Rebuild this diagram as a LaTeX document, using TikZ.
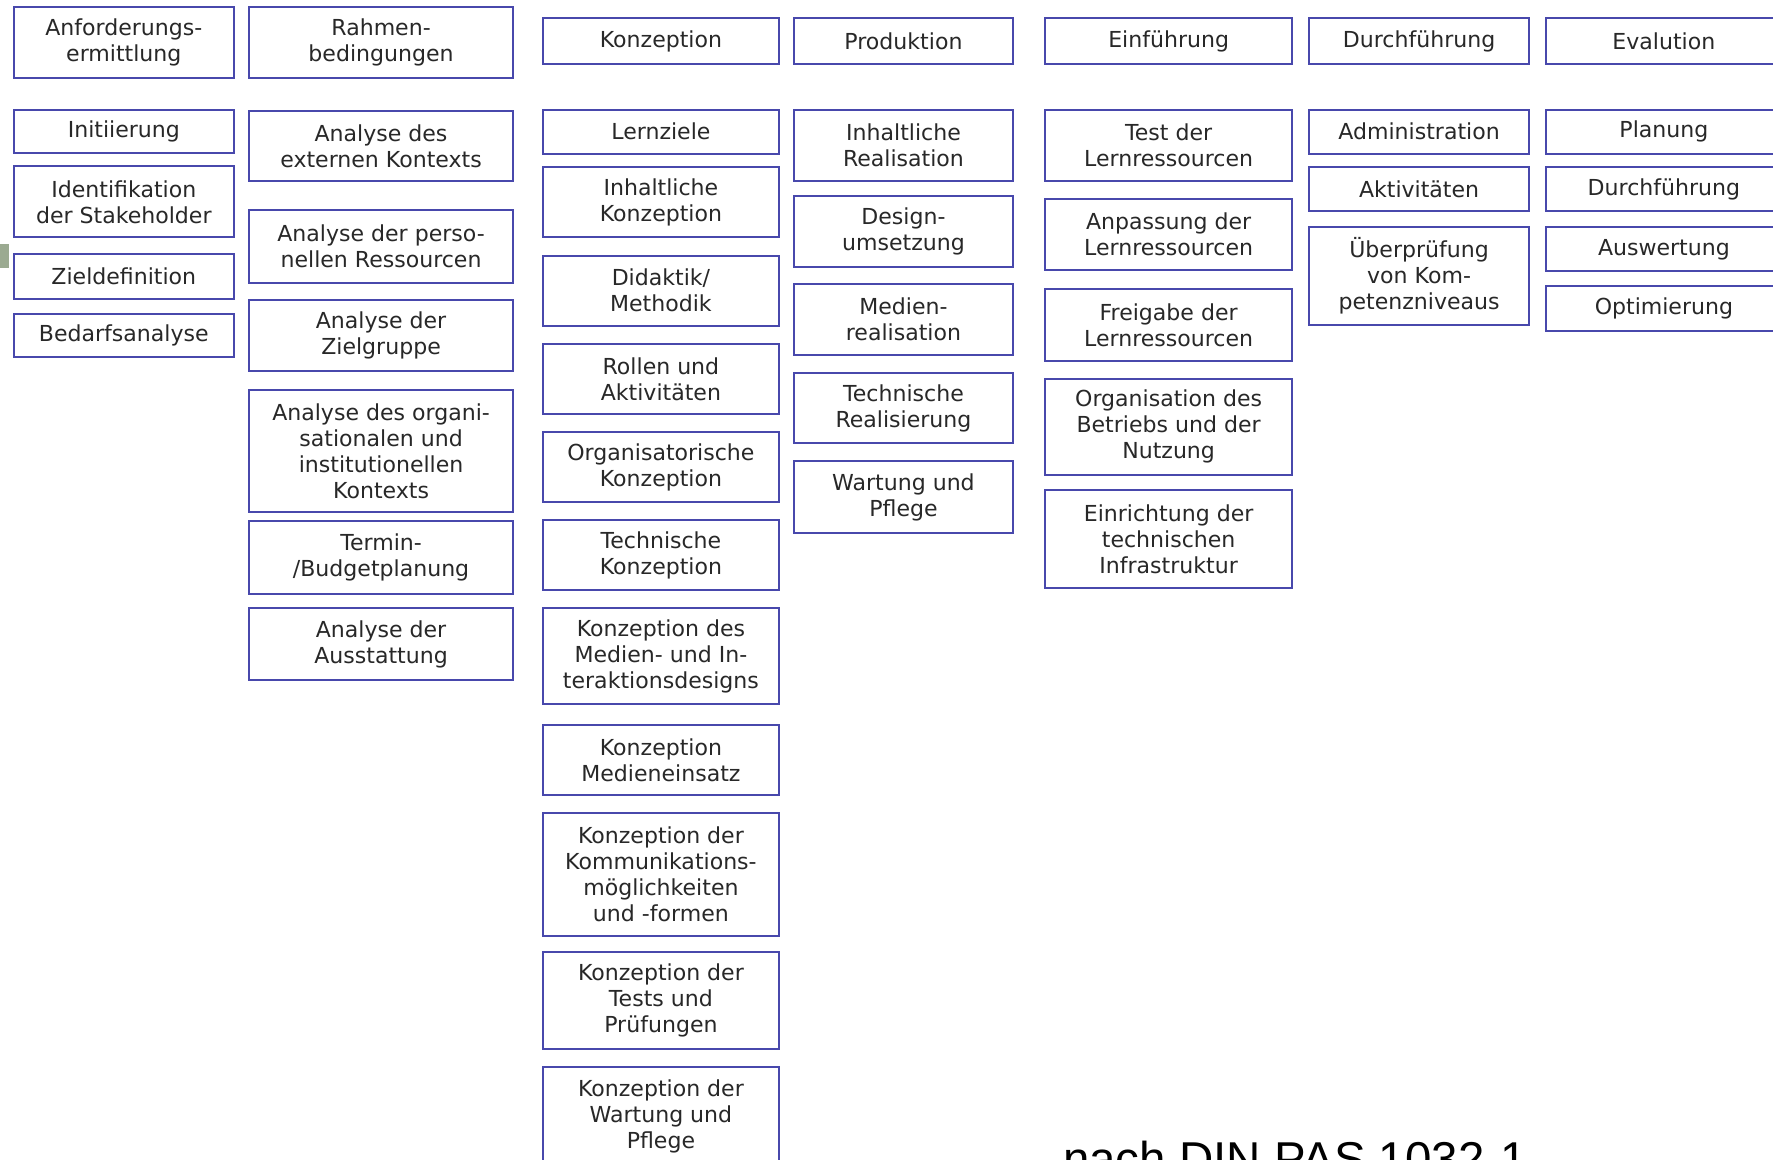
\documentclass[tikz,border=0pt]{standalone}
\usepackage{fontspec}
\setmainfont{DejaVu Sans}
\newfontfamily\capfont{Liberation Sans}
\definecolor{boxblue}{RGB}{72,72,172}
\definecolor{txtgray}{RGB}{40,40,40}
\definecolor{tabgreen}{RGB}{155,170,145}
\tikzset{
  box/.style={draw=boxblue, line width=1.8pt, fill=white, align=center, inner sep=0pt,
    text=txtgray, font=\fontsize{19.5}{23}\selectfont},
  captext/.style={font=\capfont\fontsize{42}{48}\selectfont, text=black, inner sep=0pt, anchor=base west}
}
\newcommand\bx[6]{\node[box, minimum width={#4-#2}, minimum height={#5-#3}] (#1) at ({(#2+#4)/2},{-(#3+#5)/2}) {#6};}
\begin{document}
\begin{tikzpicture}[x=1pt,y=1pt]
\useasboundingbox (0,0) rectangle (1568,-1025);
\clip (0,0) rectangle (1568,-1025);
\fill[white] (0,0) rectangle (1568,-1025);
\fill[tabgreen] (0,-216) rectangle (8,-237);
% column 1
\bx{a0}{12}{6}{207}{69}{Anforderungs-\\ermittlung}
\bx{a1}{12}{97}{207}{135}{Initiierung}
\bx{a2}{12}{147}{207}{210}{Identifikation\\der Stakeholder}
\bx{a3}{12}{225}{207}{264}{Zieldefinition}
\bx{a4}{12}{278}{207}{316}{Bedarfsanalyse}
% column 2
\bx{b0}{220}{6}{454}{69}{Rahmen-\\bedingungen}
\bx{b1}{220}{98}{454}{160}{Analyse des\\externen Kontexts}
\bx{b2}{220}{186}{454}{250}{Analyse der perso-\\nellen Ressourcen}
\bx{b3}{220}{265}{454}{328}{Analyse der\\Zielgruppe}
\bx{b4}{220}{345}{454}{453}{Analyse des organi-\\sationalen und\\institutionellen\\Kontexts}
\bx{b5}{220}{461}{454}{525}{Termin-\\/Budgetplanung}
\bx{b6}{220}{538}{454}{601}{Analyse der\\Ausstattung}
% column 3
\bx{c0}{480}{16}{689}{57}{Konzeption}
\bx{c1}{480}{97}{689}{136}{Lernziele}
\bx{c2}{480}{148}{689}{210}{Inhaltliche\\Konzeption}
\bx{c3}{480}{226}{689}{288}{Didaktik/\\Methodik}
\bx{c4}{480}{304}{689}{366}{Rollen und\\Aktivitäten}
\bx{c5}{480}{382}{689}{444}{Organisatorische\\Konzeption}
\bx{c6}{480}{460}{689}{522}{Technische\\Konzeption}
\bx{c7}{480}{538}{689}{623}{Konzeption des\\Medien- und In-\\teraktionsdesigns}
\bx{c8}{480}{641}{689}{703}{Konzeption\\Medieneinsatz}
\bx{c9}{480}{719}{689}{828}{Konzeption der\\Kommunikations-\\möglichkeiten\\und -formen}
\bx{c10}{480}{842}{689}{928}{Konzeption der\\Tests und\\Prüfungen}
\node[box, minimum width=209, minimum height=86, anchor=north] (c11) at (584.5,-943) {Konzeption der\\Wartung und\\Pflege};
% column 4
\bx{d0}{702}{16}{896}{57}{Produktion}
\bx{d1}{702}{97}{896}{160}{Inhaltliche\\Realisation}
\bx{d2}{702}{173}{896}{236}{Design-\\umsetzung}
\bx{d3}{702}{251}{896}{314}{Medien-\\realisation}
\bx{d4}{702}{330}{896}{392}{Technische\\Realisierung}
\bx{d5}{702}{408}{896}{471}{Wartung und\\Pflege}
% column 5
\bx{e0}{924}{16}{1143}{57}{Einführung}
\bx{e1}{924}{97}{1143}{160}{Test der\\Lernressourcen}
\bx{e2}{924}{176}{1143}{239}{Anpassung der\\Lernressourcen}
\bx{e3}{924}{256}{1143}{319}{Freigabe der\\Lernressourcen}
\bx{e4}{924}{335}{1143}{420}{Organisation des\\Betriebs und der\\Nutzung}
\bx{e5}{924}{433}{1143}{520}{Einrichtung der\\technischen\\Infrastruktur}
% column 6
\bx{f0}{1158}{16}{1352}{57}{Durchführung}
\bx{f1}{1158}{97}{1352}{136}{Administration}
\bx{f2}{1158}{148}{1352}{187}{Aktivitäten}
\bx{f3}{1158}{201}{1352}{287}{Überprüfung\\von Kom-\\petenzniveaus}
% column 7
\bx{g0}{1367}{16}{1576}{57}{Evalution}
\bx{g1}{1367}{97}{1576}{136}{Planung}
\bx{g2}{1367}{148}{1576}{187}{Durchführung}
\bx{g3}{1367}{201}{1576}{240}{Auswertung}
\bx{g4}{1367}{253}{1576}{293}{Optimierung}
% caption
\node[captext] (cap) at (940,-1040) {nach DIN PAS 1032-1};
\end{tikzpicture}
\end{document}
